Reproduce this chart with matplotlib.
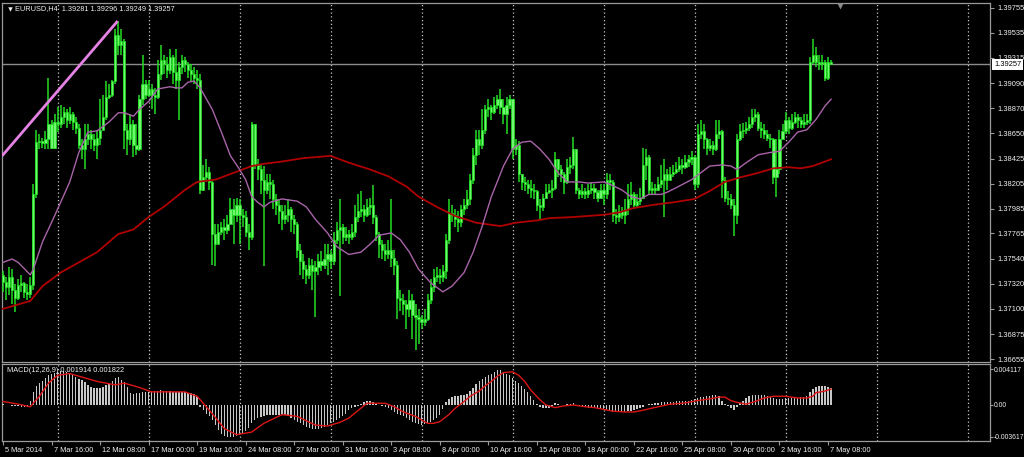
import matplotlib
matplotlib.use("Agg")
import matplotlib.pyplot as plt
import matplotlib.transforms as mtransforms
import numpy as np

# ---------------- data ----------------
first_open = 1.3740
closes = [
 1.3734,1.3729,1.3738,1.3727,1.3720,1.3731,1.3733,1.3725,1.3723,1.3731,
 1.3811,1.3857,1.3858,1.3856,1.3860,1.3873,1.3852,1.3875,1.3873,1.3879,
 1.3884,1.3877,1.3882,1.3875,1.3870,1.3855,1.3851,1.3860,1.3864,1.3860,
 1.3855,1.3861,1.3868,1.3879,1.3897,1.3899,1.3911,1.3952,1.3943,1.3946,
 1.3868,1.3860,1.3873,1.3855,1.3851,1.3895,1.3908,1.3899,1.3904,1.3899,
 1.3897,1.3917,1.3930,1.3926,1.3921,1.3932,1.3919,1.3912,1.3923,1.3930,
 1.3926,1.3921,1.3917,1.3914,1.3912,1.3815,1.3826,1.3831,1.3822,1.3776,
 1.3767,1.3778,1.3782,1.3780,1.3785,1.3798,1.3793,1.3802,1.3793,1.3791,
 1.3778,1.3773,1.3873,1.3837,1.3833,1.3824,1.3815,1.3822,1.3820,1.3807,
 1.3802,1.3796,1.3789,1.3793,1.3798,1.3789,1.3785,1.3762,1.3752,1.3745,
 1.3740,1.3749,1.3743,1.3747,1.3752,1.3749,1.3754,1.3758,1.3752,1.3771,
 1.3780,1.3782,1.3773,1.3776,1.3773,1.3778,1.3791,1.3796,1.3798,1.3793,
 1.3800,1.3802,1.3791,1.3776,1.3767,1.3762,1.3758,1.3762,1.3755,1.3749,
 1.3720,1.3718,1.3714,1.3710,1.3718,1.3705,1.3703,1.3701,1.3698,1.3701,
 1.3718,1.3729,1.3738,1.3740,1.3738,1.3743,1.3771,1.3795,1.3793,1.3789,
 1.3787,1.3798,1.3802,1.3807,1.3824,1.3846,1.3860,1.3855,1.3868,1.3886,
 1.3888,1.3884,1.3890,1.3895,1.3888,1.3882,1.3890,1.3895,1.3851,1.3855,
 1.3829,1.3822,1.3820,1.3817,1.3815,1.3814,1.3802,1.3800,1.3808,1.3813,
 1.3815,1.3817,1.3842,1.3833,1.3829,1.3822,1.3835,1.3837,1.3851,1.3815,
 1.3811,1.3814,1.3811,1.3815,1.3817,1.3813,1.3808,1.3815,1.3811,1.3824,
 1.3822,1.3793,1.3791,1.3796,1.3793,1.3798,1.3807,1.3811,1.3802,1.3805,
 1.3808,1.3837,1.3844,1.3815,1.3817,1.3815,1.3820,1.3824,1.3829,1.3824,
 1.3829,1.3831,1.3833,1.3837,1.3835,1.3840,1.3842,1.3844,1.3820,1.3864,
 1.3867,1.3860,1.3852,1.3855,1.3851,1.3864,1.3867,1.3824,1.3808,1.3807,
 1.3802,1.3793,1.3860,1.3867,1.3868,1.3870,1.3873,1.3879,1.3882,1.3870,
 1.3868,1.3864,1.3861,1.3860,1.3826,1.3833,1.3860,1.3867,1.3877,1.3870,
 1.3875,1.3879,1.3877,1.3873,1.3875,1.3877,1.3928,1.3934,1.3928,1.3926,
 1.3928,1.3914,1.39281,1.39257]
highs = [
 1.3743,1.3738,1.3747,1.3745,1.3732,1.3736,1.3740,1.3734,1.3732,1.3738,
 1.3820,1.3868,1.3864,1.3861,1.3867,1.3914,1.3877,1.3882,1.3888,1.3890,
 1.3888,1.3886,1.3888,1.3884,1.3879,1.3873,1.3860,1.3873,1.3873,1.3868,
 1.3864,1.3868,1.3895,1.3899,1.3911,1.3908,1.3912,1.3957,1.3964,1.3957,
 1.3948,1.3873,1.3882,1.3877,1.3873,1.3899,1.3934,1.3912,1.3912,1.3908,
 1.3905,1.3930,1.3943,1.3934,1.3932,1.3939,1.3934,1.3939,1.3928,1.3934,
 1.3932,1.3928,1.3926,1.3923,1.3921,1.3917,1.3837,1.3842,1.3835,1.3824,
 1.3785,1.3785,1.3787,1.3789,1.3793,1.3808,1.3807,1.3808,1.3807,1.3798,
 1.3796,1.3785,1.3875,1.3873,1.3842,1.3837,1.3836,1.3829,1.3829,1.3824,
 1.3811,1.3807,1.3802,1.3802,1.3807,1.3800,1.3793,1.3787,1.3767,1.3758,
 1.3749,1.3755,1.3754,1.3752,1.3758,1.3761,1.3767,1.3767,1.3762,1.3778,
 1.3787,1.3807,1.3785,1.3782,1.3780,1.3785,1.3802,1.3811,1.3814,1.3802,
 1.3807,1.3808,1.3819,1.3793,1.3778,1.3771,1.3767,1.3771,1.3807,1.3762,
 1.3752,1.3727,1.3723,1.3718,1.3727,1.3723,1.3714,1.3710,1.3705,1.3710,
 1.3723,1.3736,1.3745,1.3747,1.3745,1.3749,1.3776,1.3807,1.3802,1.3798,
 1.3796,1.3802,1.3807,1.3815,1.3829,1.3852,1.3868,1.3868,1.3886,1.3890,
 1.3895,1.3890,1.3897,1.3899,1.3904,1.3895,1.3897,1.3899,1.3895,1.3860,
 1.3858,1.3829,1.3826,1.3824,1.3824,1.3820,1.3815,1.3807,1.3811,1.3820,
 1.3820,1.3824,1.3848,1.3842,1.3837,1.3831,1.3842,1.3844,1.3862,1.3851,
 1.3817,1.3820,1.3817,1.3820,1.3822,1.3820,1.3815,1.3820,1.3820,1.3830,
 1.3829,1.3824,1.3798,1.3802,1.3800,1.3807,1.3820,1.3822,1.3813,1.3811,
 1.3817,1.3852,1.3851,1.3846,1.3822,1.3820,1.3826,1.3837,1.3842,1.3833,
 1.3835,1.3837,1.3840,1.3844,1.3842,1.3846,1.3846,1.3849,1.3846,1.3873,
 1.3877,1.3873,1.3861,1.3860,1.3858,1.3877,1.3877,1.3868,1.3826,1.3814,
 1.3811,1.3807,1.3864,1.3873,1.3874,1.3875,1.3879,1.3886,1.3886,1.3884,
 1.3875,1.3873,1.3868,1.3864,1.3861,1.3860,1.3868,1.3873,1.3884,1.3879,
 1.3882,1.3884,1.3882,1.3879,1.3882,1.3882,1.3932,1.3948,1.3941,1.3934,
 1.3934,1.3930,1.3932,1.39296]
lows = [
 1.3725,1.3718,1.3722,1.3714,1.3707,1.3718,1.3725,1.3720,1.3718,1.3720,
 1.3727,1.3808,1.3851,1.3852,1.3851,1.3851,1.3851,1.3851,1.3866,1.3870,
 1.3873,1.3870,1.3873,1.3868,1.3864,1.3851,1.3842,1.3833,1.3855,1.3851,
 1.3849,1.3842,1.3855,1.3873,1.3877,1.3895,1.3897,1.3908,1.3934,1.3934,
 1.3851,1.3846,1.3855,1.3844,1.3846,1.3849,1.3890,1.3895,1.3897,1.3886,
 1.3882,1.3895,1.3912,1.3917,1.3914,1.3917,1.3908,1.3904,1.3877,1.3917,
 1.3919,1.3914,1.3911,1.3908,1.3904,1.3811,1.3814,1.3822,1.3815,1.3749,
 1.3748,1.3771,1.3775,1.3771,1.3776,1.3785,1.3767,1.3787,1.3767,1.3782,
 1.3773,1.3762,1.3771,1.3833,1.3824,1.3811,1.3748,1.3811,1.3807,1.3798,
 1.3793,1.3785,1.3780,1.3785,1.3787,1.3778,1.3776,1.3755,1.3740,1.3736,
 1.3732,1.3736,1.3727,1.3703,1.3740,1.3743,1.3745,1.3740,1.3745,1.3749,
 1.3767,1.3721,1.3767,1.3770,1.3767,1.3771,1.3773,1.3787,1.3791,1.3787,
 1.3791,1.3793,1.3785,1.3770,1.3755,1.3754,1.3752,1.3754,1.3747,1.3740,
 1.3701,1.3708,1.3705,1.3692,1.3703,1.3683,1.3674,1.3679,1.3692,1.3695,
 1.3699,1.3714,1.3725,1.3734,1.3732,1.3734,1.3736,1.3767,1.3787,1.3782,
 1.3778,1.3782,1.3793,1.3798,1.3802,1.3820,1.3837,1.3846,1.3851,1.3864,
 1.3879,1.3877,1.3882,1.3886,1.3882,1.3873,1.3864,1.3886,1.3842,1.3846,
 1.3822,1.3815,1.3814,1.3811,1.3808,1.3807,1.3796,1.3789,1.3796,1.3807,
 1.3811,1.3808,1.3815,1.3826,1.3822,1.3811,1.3820,1.3829,1.3833,1.3811,
 1.3807,1.3808,1.3807,1.3808,1.3811,1.3807,1.3804,1.3807,1.3802,1.3807,
 1.3815,1.3787,1.3785,1.3787,1.3789,1.3785,1.3793,1.3802,1.3798,1.3800,
 1.3802,1.3807,1.3824,1.3811,1.3811,1.3811,1.3814,1.3817,1.3791,1.3815,
 1.3824,1.3826,1.3829,1.3831,1.3829,1.3833,1.3835,1.3837,1.3815,1.3817,
 1.3860,1.3851,1.3846,1.3849,1.3846,1.3849,1.3860,1.3808,1.3804,1.3802,
 1.3798,1.3774,1.3785,1.3858,1.3861,1.3864,1.3867,1.3870,1.3875,1.3867,
 1.3861,1.3860,1.3858,1.3852,1.3820,1.3809,1.3829,1.3860,1.3864,1.3864,
 1.3868,1.3873,1.3870,1.3870,1.3870,1.3872,1.3873,1.3926,1.3923,1.3921,
 1.3921,1.3911,1.3912,1.39249]

# moving averages (bar index, price)
ma_fast_bars = [0,3,5,9,10,13,17,22,25,28,31,35,38,40,43,45,48,51,55,57,59,61,63,65,69,72,75,78,80,82,84,86,88,92,
                97,100,103,107,110,114,118,121,124,128,131,134,137,141,145,148,152,155,158,161,165,168,171,174,177,180,
                183,186,190,193,198,200,204,207,210,213,217,219,222,227,230,233,237,240,242,245,249,253,256,259,262,265,268,271,273]
ma_fast_vals = [1.3751,1.3754,1.3751,1.3740,1.3745,1.3769,1.3792,1.3822,1.3848,1.3866,1.3867,1.3875,1.3883,1.3883,1.3880,
                1.3886,1.3893,1.3904,1.3906,1.3905,1.3905,1.3910,1.3911,1.3905,1.3886,1.3866,1.3845,1.3833,1.3824,1.3809,
                1.3804,1.3800,1.3804,1.3807,1.3805,1.3800,1.3789,1.3777,1.3765,1.3758,1.3760,1.3767,1.3775,1.3777,1.3771,
                1.3760,1.3745,1.3733,1.3725,1.3730,1.3742,1.3760,1.3783,1.3809,1.3836,1.3851,1.3857,1.3858,1.3851,1.3842,
                1.3830,1.3822,1.3822,1.3821,1.3822,1.3820,1.3815,1.3809,1.3807,1.3811,1.3811,1.3813,1.3817,1.3824,1.3830,
                1.3836,1.3837,1.3836,1.3833,1.3839,1.3846,1.3848,1.3849,1.3857,1.3866,1.3868,1.3877,1.3889,1.3895]
ma_slow_bars = [0,9,13,19,25,31,38,43,48,53,60,64,70,75,82,86,92,99,108,114,121,127,133,137,143,149,156,164,169,176,
                180,188,193,198,203,208,215,221,228,233,238,243,249,254,259,263,267,273]
ma_slow_vals = [1.3710,1.3717,1.3730,1.3742,1.3751,1.3760,1.3776,1.3780,1.3791,1.3800,1.3815,1.3822,1.3824,1.3829,1.3836,
                1.3838,1.3840,1.3843,1.3845,1.3839,1.3833,1.3827,1.3818,1.3809,1.3800,1.3792,1.3786,1.3783,1.3786,1.3788,
                1.3790,1.3791,1.3792,1.3793,1.3795,1.3799,1.3802,1.3804,1.3807,1.3814,1.3822,1.3826,1.3830,1.3834,1.3835,
                1.3834,1.3836,1.3842]

# trend line (bar index, price)
trend_bars = [-0.3, 37.8]
trend_vals = [1.3845, 1.3964]

last_price = 1.39257

# MACD histogram (units of 0.0001)
macd_e4 = [
 1,0.5,-0.5,-1,-1.5,-1.5,-2,-2,-2.5,4,
 15,22,25,28,31,34,35,37,38,39,
 39,38,37,35,32,30,29,26,23,21,
 19,19,20,21,23,24,28,31,32,29,
 26,21,14,13,14,14,15,15,15,16,
 16,16,17,16,16,16,15,15,15,15,
 15,14,14,13,10,-2,-6,-10,-13,-17,
 -23,-29,-33,-36,-37,-37,-37,-35,-34,-32,
 -30,-26,-21,-17,-15,-14,-13,-12,-11,-11,
 -11,-11,-11,-12,-13,-15,-17,-19,-21,-23,
 -25,-26,-27,-27,-27,-26,-25,-23,-21,-19,
 -17,-15,-13,-10,-6,-4,-2,-1,1,3,
 4,4,3,1,0,-1,-2,-4,-6,-8,
 -10,-12,-13,-15,-17,-19,-21,-22,-23,-22,
 -21,-19,-17,-15,-11,-5,3,7,9,10,
 10,11,11,13,16,20,24,27,30,32,
 34,36,38,40,40,38,36,34,31,28,
 25,22,18,15,10,6,1,-2,-3,-4,
 -3,-1,2,1,0,0,1,1,2,0,
 -1,-2,-2,-3,-4,-4,-5,-5,-6,-6,
 -7,-8,-8,-8,-8,-8,-7,-7,-6,-5,
 -3,-2,0,1,1,2,2,3,3,3,
 3,3,4,4,4,5,5,6,7,8,
 9,9,10,10,11,11,10,4,1,-1,
 -3,-6,-2,2,5,8,10,11,11,11,
 11,11,10,9,8,7,7,7,8,8,
 8,8,8,9,9,10,15,18,21,22,
 22,22,21,19.14]
signal_bars = [0,5,9,12,15,18,22,26,31,37,40,45,49,54,60,64,69,73,77,82,86,92,97,103,107,111,114,120,123,126,129,132,
               136,138,140,142,144,147,149,152,154,157,159,161,163,165,168,170,172,174,177,179,182,185,188,192,195,198,
               201,205,208,211,216,220,224,226,229,233,236,238,240,242,245,248,251,254,258,262,265,267,268,271,273]
signal_e4 = [4,1,-2,10,25,34,36,32,27,23,25,20,15,15,15,10,-10,-27,-34,-31,-21,-11,-13,-23,-24,-20,-15,2,2,2,-2,-8,
             -13,-17,-21,-21,-19,-11,-4,4,10,16,22,27,33,37,38,34,27,17,6,0,-3,-1,0,-2,-3,-5,
             -7,-8,-8,-6,-2,1,2,3,5,7,9,9,5,3,1,4,8,10,10,8,8,10,14,16,18.22]

date_bars = [0,16,32,48,64,80,96,112,128,144,160,176,192,208,224,240,256,272]
date_labels = ["5 Mar 2014","7 Mar 16:00","12 Mar 08:00","17 Mar 00:00","19 Mar 16:00","24 Mar 08:00",
               "27 Mar 00:00","31 Mar 16:00","3 Apr 08:00","8 Apr 00:00","10 Apr 16:00","15 Apr 08:00",
               "18 Apr 00:00","22 Apr 16:00","25 Apr 08:00","30 Apr 00:00","2 May 16:00","7 May 08:00"]
grid_bars = [18,48,78,108,138,168,198,228,258,288,318]
price_ticks = [1.39755,1.39535,1.39315,1.39090,1.38870,1.38650,1.38425,1.38205,1.37985,1.37765,
               1.37540,1.37320,1.37100,1.36875,1.36655]
macd_ticks = [0.004117, 0.0, -0.003617]
macd_tick_labels = ["0.004117", "0.00", "-0.003617"]
header = "EURUSD,H4  1.39281 1.39296 1.39249 1.39257"
macd_header = "MACD(12,26,9) 0.001914 0.001822"

# ---------------- figure ----------------
W, H = 1024, 457
FONT = "Liberation Sans"
fig = plt.figure(figsize=(W / 100, H / 100), dpi=100, facecolor="black")

def rect(x0, y0, x1, y1):
    return [x0 / W, 1 - y1 / H, (x1 - x0) / W, (y1 - y0) / H]

ax = fig.add_axes(rect(2, 3, 990, 362), facecolor="black")
axm = fig.add_axes(rect(2, 364, 990, 441), facecolor="black", sharex=ax)

spine_col = "#9a9a9a"
txt_col = "#f0f0f0"
for a in (ax, axm):
    for s in a.spines.values():
        s.set_color(spine_col)
        s.set_linewidth(0.9)
    for gb in grid_bars:
        a.axvline(gb, color="#c8c8c8", lw=0.9, ls=(0, (1, 2)), zorder=1)

ax.set_xlim(-0.33, 325.4)
ax.set_ylim(1.36631, 1.39799)
axm.set_ylim(-0.00412, 0.00469)

# candles
n = len(closes)
x = np.arange(n)
opens = [first_open] + closes[:-1]
o = np.array(opens); c = np.array(closes); h = np.array(highs); l = np.array(lows)
hi = np.maximum.reduce([h, o, c]); lo = np.minimum.reduce([l, o, c])
ax.vlines(x, lo, hi, color="#22dd22", lw=1.1, zorder=3)
bot = np.minimum(o, c)
ht = np.maximum(np.abs(c - o), 0.00004)
ax.bar(x, ht, bottom=bot, width=0.72, color="#70f870", edgecolor="#1ee01e", linewidth=0.5, zorder=4)

# moving averages, trendline, price line
ax.plot(ma_slow_bars, ma_slow_vals, color="#b00000", lw=1.3, zorder=5)
ax.plot(ma_fast_bars, ma_fast_vals, color="#a864a8", lw=1.0, zorder=5)
ax.plot(trend_bars, trend_vals, color="#e483e4", lw=2.0, zorder=6, solid_capstyle="butt")
ax.axhline(last_price, color="#8c8c8c", lw=1.0, zorder=2)

# right price scale
ax.yaxis.tick_right()
ax.set_yticks(price_ticks)
ax.set_yticklabels([f"{v:.5f}" for v in price_ticks])
ax.tick_params(axis="y", colors=spine_col, labelcolor=txt_col, length=3, width=0.8, pad=2,
               labelsize=5.4, labelfontfamily=FONT)
ax.tick_params(axis="x", bottom=False, labelbottom=False)
ax.annotate(f"{last_price:.5f}", xy=(1, last_price), xycoords=("axes fraction", "data"),
            xytext=(4, 0), textcoords="offset pixels", ha="left", va="center", fontsize=5.4,
            family=FONT, color="black", zorder=10, annotation_clip=False,
            bbox=dict(boxstyle="square,pad=0.25", facecolor="white", edgecolor="none"))

# header
ax.annotate(header, xy=(0, 1), xycoords="axes fraction", xytext=(13, -6), textcoords="offset pixels",
            ha="left", va="center", fontsize=5.3, family=FONT, color=txt_col, zorder=10)
ax.plot([0], [1], transform=ax.transAxes + mtransforms.ScaledTranslation(8 / 100, -6 / 100, fig.dpi_scale_trans),
        marker="v", ms=3.2, color=txt_col, mec="none", clip_on=False, zorder=10)
ax.plot([0], [1], transform=ax.transAxes + mtransforms.ScaledTranslation(838 / 100, -3 / 100, fig.dpi_scale_trans),
        marker="v", ms=4, color="#8a8a8a", mec="none", clip_on=False, zorder=10)

# MACD panel
macd = np.array(macd_e4) * 1e-4
axm.bar(x, macd, width=0.45, color="#c8c8c8", linewidth=0, zorder=3)
axm.plot(signal_bars, np.array(signal_e4) * 1e-4, color="#dd1515", lw=1.0, zorder=4)
axm.annotate(macd_header, xy=(0, 1), xycoords="axes fraction", xytext=(5, -7), textcoords="offset pixels",
             ha="left", va="center", fontsize=5.3, family=FONT, color=txt_col, zorder=2)
axm.yaxis.tick_right()
axm.set_yticks(macd_ticks)
axm.set_yticklabels(macd_tick_labels)
axm.tick_params(axis="y", colors=spine_col, labelcolor=txt_col, length=2, width=0.8, pad=1,
                labelsize=4.9, labelfontfamily=FONT)
axm.set_xticks(date_bars)
axm.set_xticklabels(date_labels)
axm.tick_params(axis="x", colors=spine_col, labelcolor=txt_col, length=3, width=0.8, pad=1.5,
                labelsize=5.3, labelfontfamily=FONT)
off = mtransforms.ScaledTranslation(2 / 100, 0, fig.dpi_scale_trans)
for lab in axm.get_xticklabels():
    lab.set_horizontalalignment("left")
    lab.set_transform(lab.get_transform() + off)

fig.savefig("out.png", dpi=100, facecolor="black")
